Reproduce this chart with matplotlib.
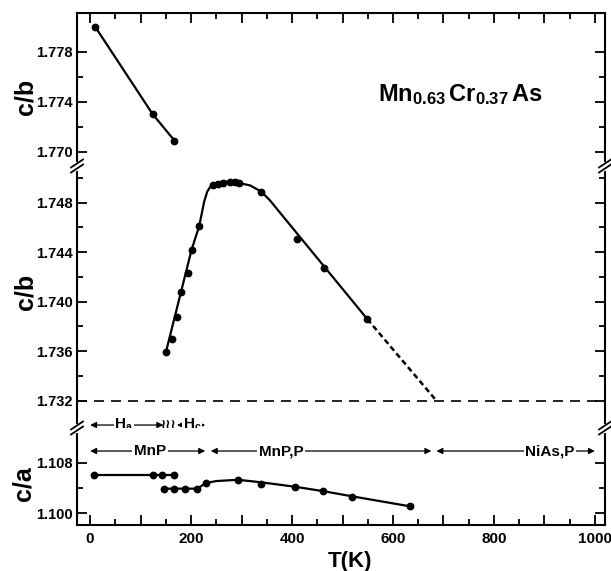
"""
Mn0.63Cr0.37As lattice ratios vs temperature, broken y axis in one frame.
"""
import matplotlib
matplotlib.use('Agg')
import matplotlib.pyplot as plt
from matplotlib.lines import Line2D
from matplotlib.ticker import FixedLocator, FormatStrFormatter

# c/b, low-temperature branch
T_top = [10, 124, 167]
cb_top = [1.7800, 1.7730, 1.7709]

# c/b, main branch (measured points)
T_mid = [150, 162, 173, 181, 193, 201, 216, 244, 254, 264, 277, 287, 294, 339, 409, 463, 549]
cb_mid = [1.7359, 1.7370, 1.7388, 1.7408, 1.7423, 1.7442, 1.7461, 1.7494, 1.7495, 1.7496,
          1.7497, 1.7497, 1.7496, 1.7489, 1.7451, 1.7427, 1.7386]
# hand-drawn curve through the main branch
T_mid_curve = [150, 201, 216, 221, 226, 232, 239, 250, 270, 294, 317, 339, 356, 549]
cb_mid_curve = [1.7359, 1.7442, 1.7461, 1.7471, 1.7481, 1.7489, 1.74935, 1.7496, 1.74970,
                1.7496, 1.7494, 1.7489, 1.7482, 1.7386]
# dashed extrapolation down to the hexagonal value
T_ext = [549, 686]
cb_ext = [1.7386, 1.7320]
cb_hex = 1.732

# c/a
T_ca_hi = [8, 125, 143, 167]
ca_hi = [1.1060, 1.1060, 1.1060, 1.1060]
T_ca_lo = [146, 166, 187, 211, 229, 293, 339, 406, 462, 518, 634]
ca_lo = [1.1039, 1.1038, 1.1038, 1.1039, 1.1048, 1.1053, 1.1046, 1.1041, 1.1035, 1.1026, 1.1011]
T_ca_curve = [146, 211, 220, 230, 250, 293, 339, 406, 462, 518, 634]
ca_curve = [1.1039, 1.1039, 1.1043, 1.1048, 1.1051, 1.1053, 1.1049, 1.1042, 1.1035, 1.1027, 1.1011]

# phase ranges (K): start, end, label, label position
ranges_mag = [(0, 145, r'$H_a$', 67), (172, 228, r'$H_c$', 202)]
squiggle_T = 156
ranges_struct = [(0, 228, 'MnP', 119), (239, 676, 'MnP,P', 378), (686, 1000, 'NiAs,P', 911)]

XTICKS = list(range(0, 1001, 100))
XTICK_LABELS = ['0', '', '200', '', '400', '', '600', '', '800', '', '1000']

plt.rcParams['font.family'] = ['Liberation Sans', 'DejaVu Sans']
plt.rcParams['font.weight'] = 'bold'
plt.rcParams['mathtext.fontset'] = 'custom'
plt.rcParams['mathtext.rm'] = 'Liberation Sans:bold'
plt.rcParams['mathtext.it'] = 'Liberation Sans:bold'
plt.rcParams['mathtext.bf'] = 'Liberation Sans:bold'
plt.rcParams['mathtext.default'] = 'bf'

W, H = 611, 571
LEFT, RIGHT = 77, 605
fig = plt.figure(figsize=(W / 100, H / 100), dpi=100)


def box(top_px, bot_px):
    return [LEFT / W, 1 - bot_px / H, (RIGHT - LEFT) / W, (bot_px - top_px) / H]


ax_top = fig.add_axes(box(13, 166))
ax_mid = fig.add_axes(box(166, 428))
ax_bot = fig.add_axes(box(428, 525))

for ax in (ax_top, ax_mid, ax_bot):
    ax.set_xlim(-26, 1020)
    ax.xaxis.set_major_locator(FixedLocator(XTICKS))
    ax.xaxis.set_minor_locator(FixedLocator(list(range(50, 1000, 100))))
    ax.tick_params(which='both', direction='in', left=True, right=True, width=1.3,
                   labelsize=10.5, pad=3)
    ax.tick_params(which='major', length=7)
    ax.tick_params(which='minor', length=4)
    ax.yaxis.set_major_formatter(FormatStrFormatter('%.3f'))
    for s in ax.spines.values():
        s.set_linewidth(1.5)

ax_top.spines['bottom'].set_visible(False)
ax_mid.spines['top'].set_visible(False)
ax_mid.spines['bottom'].set_visible(False)
ax_bot.spines['top'].set_visible(False)

ax_top.tick_params(axis='x', which='both', top=True, bottom=False, labelbottom=False)
ax_mid.tick_params(axis='x', which='both', top=False, bottom=False, labelbottom=False)
ax_bot.tick_params(axis='x', which='both', top=False, bottom=True, labelsize=11, pad=5)
ax_bot.set_xticklabels(XTICK_LABELS)

# y scales
ax_top.set_ylim(1.76886, 1.78110)
ax_top.yaxis.set_major_locator(FixedLocator([1.770, 1.774, 1.778]))
ax_top.yaxis.set_minor_locator(FixedLocator([1.772, 1.776]))

ax_mid.set_ylim(1.72979, 1.75097)
ax_mid.yaxis.set_major_locator(FixedLocator([1.732, 1.736, 1.740, 1.744, 1.748]))
ax_mid.yaxis.set_minor_locator(FixedLocator([1.734, 1.738, 1.742, 1.746, 1.750]))

ax_bot.set_ylim(1.09815, 1.11349)
ax_bot.yaxis.set_major_locator(FixedLocator([1.100, 1.108]))
ax_bot.yaxis.set_minor_locator(FixedLocator([1.104]))

mk = dict(marker='o', ms=4.6, color='black', ls='none')

# c/b upper panel
ax_top.plot(T_top, cb_top, color='black', lw=1.6)
ax_top.plot(T_top, cb_top, **mk)

# c/b main panel
ax_mid.plot(T_mid_curve, cb_mid_curve, color='black', lw=1.6)
ax_mid.plot(T_mid, cb_mid, **mk)
ax_mid.plot(T_ext, cb_ext, color='black', lw=1.8, ls=(0, (2.2, 1.4)))
ax_mid.axhline(cb_hex, color='black', lw=1.2, ls=(0, (6, 4.2)))

# c/a panel
ax_bot.plot(T_ca_hi, ca_hi, color='black', lw=1.6)
ax_bot.plot(T_ca_hi, ca_hi, **mk)
ax_bot.plot(T_ca_curve, ca_curve, color='black', lw=1.6)
ax_bot.plot(T_ca_lo, ca_lo, **mk)

# phase range arrows
arrow = dict(arrowstyle='<|-|>', lw=0.9, color='black', mutation_scale=9,
             shrinkA=0, shrinkB=0)
y_mag = 1.73003
for x0, x1, label, xt in ranges_mag:
    ax_mid.annotate('', xy=(x0, y_mag), xytext=(x1, y_mag), arrowprops=arrow,
                    annotation_clip=False)
    ax_mid.text(xt, y_mag, label, ha='center', va='center', fontsize=11, zorder=5,
                bbox=dict(fc='white', ec='none', pad=0.6), clip_on=False)
ax_mid.text(squiggle_T, y_mag, '\u2240\u2240\u2240', ha='center', va='center',
            fontsize=10, family='DejaVu Sans', zorder=6, clip_on=False)

y_struct = 1.10985
for x0, x1, label, xt in ranges_struct:
    ax_bot.annotate('', xy=(x0, y_struct), xytext=(x1, y_struct), arrowprops=arrow,
                    annotation_clip=False)
    ax_bot.text(xt, y_struct, label, ha='center', va='center', fontsize=11, zorder=5,
                bbox=dict(fc='white', ec='none', pad=1.2))


def break_mark(xp, yp):
    # two parallel slashes across the spine, spine blanked between them
    def f(x, y):
        return x / W, 1 - y / H
    gap = Line2D(*zip(f(xp, yp - 2.5), f(xp, yp + 2.5)), transform=fig.transFigure,
                 color='white', lw=3)
    fig.add_artist(gap)
    for dy in (-2.5, 2.5):
        (xa, ya), (xb, yb) = f(xp - 6, yp + dy + 4), f(xp + 6, yp + dy - 4)
        fig.add_artist(Line2D([xa, xb], [ya, yb], transform=fig.transFigure,
                              color='black', lw=1.3))


for yb in (166, 428):
    break_mark(LEFT, yb)
    break_mark(RIGHT, yb)

# axis labels
fig.text(25 / W, 1 - 97 / H, 'c/b', rotation=90, ha='center', va='center', fontsize=18)
fig.text(25 / W, 1 - 292 / H, 'c/b', rotation=90, ha='center', va='center', fontsize=18)
fig.text(24 / W, 1 - 484 / H, 'c/a', rotation=90, ha='center', va='center', fontsize=18)
fig.text(350 / W, 1 - 561 / H, 'T(K)', ha='center', va='center', fontsize=16)

fig.text(378 / W, 1 - 101.5 / H, r'$Mn_{0.63}\,Cr_{0.37}\,As$', ha='left',
         va='baseline', fontsize=17)

fig.savefig('out.png', dpi=100)
